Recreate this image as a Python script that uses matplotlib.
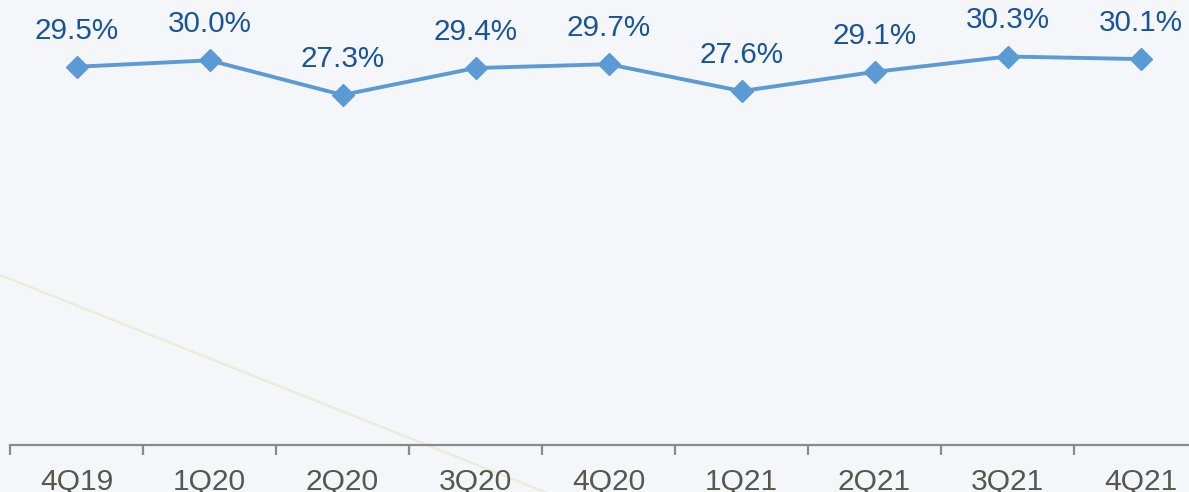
import matplotlib
matplotlib.use("Agg")
import matplotlib.pyplot as plt
from matplotlib.lines import Line2D

quarters = ["4Q19", "1Q20", "2Q20", "3Q20", "4Q20", "1Q21", "2Q21", "3Q21", "4Q21"]
values = [29.5, 30.0, 27.3, 29.4, 29.7, 27.6, 29.1, 30.3, 30.1]
value_labels = ["29.5%", "30.0%", "27.3%", "29.4%", "29.7%", "27.6%", "29.1%", "30.3%", "30.1%"]

plt.rcParams['font.family'] = ['Liberation Sans', 'DejaVu Sans']

W, H = 1189, 492
fig = plt.figure(figsize=(W / 100, H / 100), dpi=100)
bg = "#f5f6f9"
fig.patch.set_facecolor(bg)

# faint decorative diagonal line in the background
fig.add_artist(Line2D([0.0, 545 / W], [1 - 275 / H, 0.0], transform=fig.transFigure,
                      color="#ebecd6", lw=1.6, zorder=0))

ax = fig.add_axes([10 / W, (H - 444.7) / H, 1197 / W, 448.4 / H])
ax.set_facecolor("none")

x = list(range(len(quarters)))
ax.plot(x, values, color="#5b9bd5", lw=2.8, marker="D", ms=11.5, zorder=3)

for xi, v, lab in zip(x, values, value_labels):
    ax.annotate(lab, (xi, v), xytext=(0, 26), textcoords="offset points",
                ha="center", va="center", fontsize=21.3, color="#17559a")

ax.set_xlim(-0.5, len(quarters) - 0.5)
ax.set_ylim(0, 35)

for s in ["top", "right", "left"]:
    ax.spines[s].set_visible(False)
ax.spines["bottom"].set_color("#8a8a8a")
ax.spines["bottom"].set_linewidth(1.6)

ax.set_yticks([])
ax.set_xticks([i - 0.5 for i in range(len(quarters) + 1)])
ax.set_xticklabels([])
ax.set_xticks(x, minor=True)
ax.set_xticklabels(quarters, minor=True)
ax.tick_params(axis="x", which="major", length=7, width=1.6, color="#8a8a8a", direction="out")
ax.tick_params(axis="x", which="minor", length=0, pad=17, labelsize=21.6, labelcolor="#575750")

fig.savefig("out.png", dpi=100, facecolor=bg)
